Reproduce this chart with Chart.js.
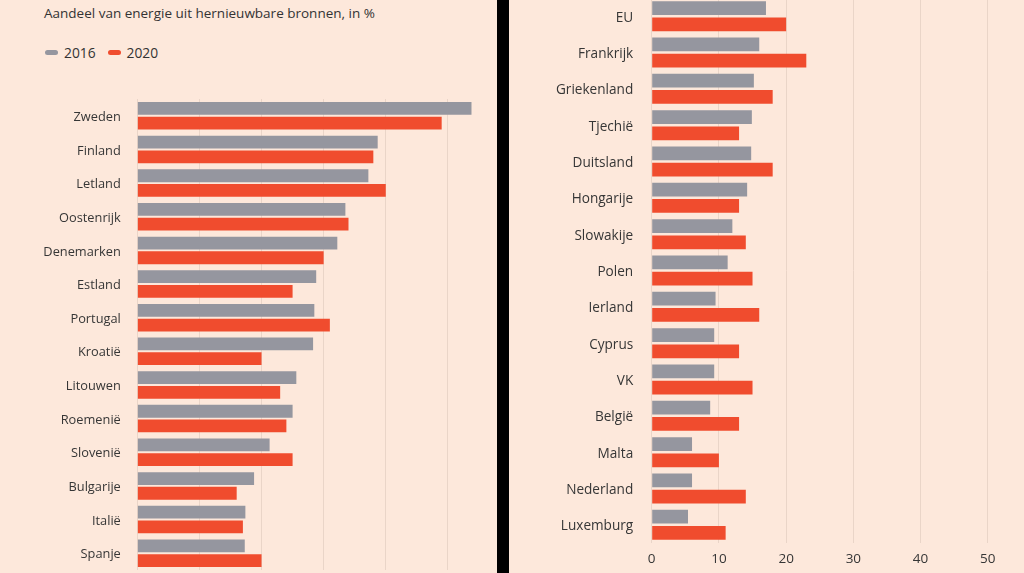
<!DOCTYPE html>
<html lang="nl">
<head>
<meta charset="utf-8">
<title>Hernieuwbare energie</title>
<script src="https://cdn.jsdelivr.net/npm/chart.js@4/dist/chart.umd.min.js"></script>
<style>
    body { margin: 0; background: #000; width: 1024px; height: 573px; overflow: hidden; font-family: "Open Sans", Lato, sans-serif; }
    .paneel { position: absolute; top: 0; height: 573px; background: #fde8db; overflow: hidden; }
    #paneelLinks { left: 0; width: 497px; }
    #paneelRechts { left: 509px; width: 515px; }
    #paneelLinks canvas { position: absolute; left: 0; top: 0; }
    #paneelRechts canvas { position: absolute; left: 0; top: -2px; }
    .titel { position: absolute; left: 44px; top: 4px; font-size: 13.5px; color: #333; white-space: nowrap; }
    .legenda { position: absolute; left: 45px; top: 43px; font-size: 13.8px; color: #333; display: flex; align-items: center; }
    .legenda span.item { display: flex; align-items: center; margin-right: 12px; }
    .legenda i { display: inline-block; width: 13px; height: 5px; border-radius: 3px; margin-right: 6px; }
</style>
</head>
<body>
<div class="paneel" id="paneelLinks">
    <div class="titel">Aandeel van energie uit hernieuwbare bronnen, in %</div>
    <div class="legenda" id="legenda"></div>
    <canvas id="grafiekLinks" width="510" height="573"></canvas>
</div>
<div class="paneel" id="paneelRechts">
    <canvas id="grafiekRechts" width="546" height="575"></canvas>
</div>
<script>
// Data: aandeel hernieuwbare energie (2016) en doel (2020), in %
const jaren = ['2016', '2020'];
const kleuren = ['#95969f', '#f04c2e'];

const landenLinks = ['Zweden', 'Finland', 'Letland', 'Oostenrijk', 'Denemarken', 'Estland', 'Portugal',
    'Kroatië', 'Litouwen', 'Roemenië', 'Slovenië', 'Bulgarije', 'Italië', 'Spanje'];
const links2016 = [53.8, 38.7, 37.2, 33.5, 32.2, 28.8, 28.5, 28.3, 25.6, 25.0, 21.3, 18.8, 17.4, 17.3];
const links2020 = [49, 38, 40, 34, 30, 25, 31, 20, 23, 24, 25, 16, 17, 20];

const landenRechts = ['EU', 'Frankrijk', 'Griekenland', 'Tjechië', 'Duitsland', 'Hongarije', 'Slowakije',
    'Polen', 'Ierland', 'Cyprus', 'VK', 'België', 'Malta', 'Nederland', 'Luxemburg'];
const rechts2016 = [17.0, 16.0, 15.2, 14.9, 14.8, 14.2, 12.0, 11.3, 9.5, 9.3, 9.3, 8.7, 6.0, 6.0, 5.4];
const rechts2020 = [20, 23, 18, 13, 18, 13, 14, 15, 16, 13, 15, 13, 10, 14, 11];

const xMax = 60;
const xStap = 10;

const tekstKleur = '#363636';
const rasterKleur = '#ead5c8';
const lettertype = 'Open Sans';

// Legenda opbouwen uit de jaren en kleuren
const legenda = document.getElementById('legenda');
jaren.forEach((jaar, i) => {
    const item = document.createElement('span');
    item.className = 'item';
    item.innerHTML = '<i style="background:' + kleuren[i] + '"></i>' + jaar;
    legenda.appendChild(item);
});

// Voor beide panelen: horizontale staafgrafiek
function maakGrafiek(canvasId, landen, waarden2016, waarden2020, inst) {
    const ctx = document.getElementById(canvasId).getContext('2d');
    return new Chart(ctx, {
        type: 'bar',
        data: {
            labels: landen,
            datasets: [waarden2016, waarden2020].map((waarden, i) => ({
                label: jaren[i],
                data: waarden,
                backgroundColor: kleuren[i],
                borderWidth: 0,
                barPercentage: inst.barPct,
                categoryPercentage: inst.catPct
            }))
        },
        options: {
            indexAxis: 'y',
            responsive: false,
            animation: false,
            layout: { padding: { top: inst.boven, left: 0, right: 0, bottom: 0 } },
            plugins: {
                legend: { display: false },
                tooltip: { enabled: false }
            },
            scales: {
                x: {
                    min: 0,
                    max: xMax,
                    border: { display: false },
                    grid: { color: rasterKleur, lineWidth: 1, drawTicks: false },
                    ticks: {
                        display: inst.xLabels,
                        stepSize: xStap,
                        color: tekstKleur,
                        padding: 8,
                        font: { family: lettertype, size: 13.5 }
                    },
                    afterFit: function(scale) {
                        scale.height = inst.xHoogte;
                        scale.paddingLeft = 0;
                        scale.paddingRight = 0;
                    }
                },
                y: {
                    border: { display: false },
                    grid: { display: false, drawTicks: false },
                    ticks: {
                        color: tekstKleur,
                        padding: inst.labelPadding,
                        labelOffset: 1.5,
                        font: { family: lettertype, size: inst.fontGrootte }
                    },
                    afterFit: function(scale) {
                        scale.width = inst.yBreedte;
                        scale.paddingTop = 0;
                        scale.paddingBottom = 0;
                    }
                }
            }
        }
    });
}

window.grafiekLinks = maakGrafiek('grafiekLinks', landenLinks, links2016, links2020, {
    barPct: 0.87, catPct: 0.875, boven: 99, xLabels: false, xHoogte: 3,
    yBreedte: 137.3, labelPadding: 16.5, fontGrootte: 12.8
});

window.grafiekRechts = maakGrafiek('grafiekRechts', landenRechts, rechts2016, rechts2020, {
    barPct: 0.85, catPct: 0.895, boven: 0, xLabels: true, xHoogte: 30,
    yBreedte: 142.7, labelPadding: 18.5, fontGrootte: 13.6
});
</script>
</body>
</html>
